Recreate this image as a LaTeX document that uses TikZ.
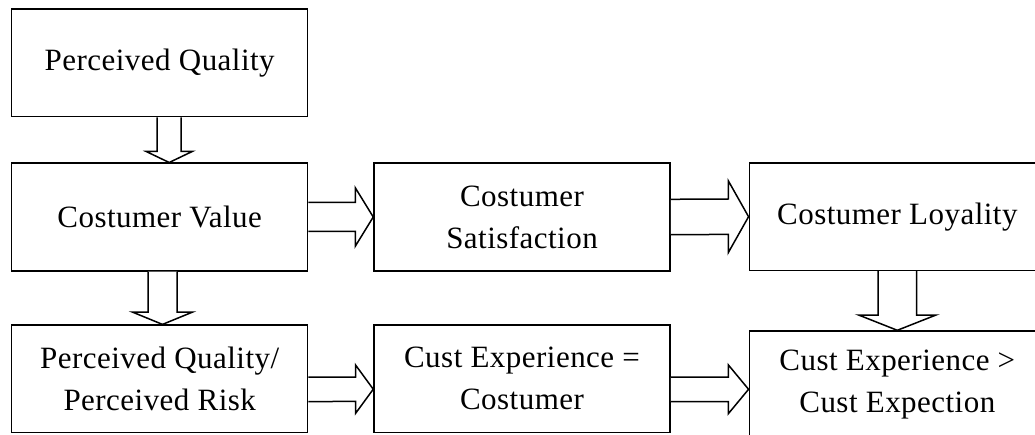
\documentclass[tikz,border=0pt]{standalone}
\usepackage{fontspec}
\setmainfont{Liberation Serif}[LetterSpace=1.5]
\usetikzlibrary{calc}

% block arrow pointing right: start, tip, shaft half-width, head half-width, head length
\newcommand\blockright[5]{%
  \draw[barrow] ($#1+(0,#3)$) -- ($#2+(-#5,#3)$) -- ($#2+(-#5,#4)$) -- #2
    -- ($#2+(-#5,-#4)$) -- ($#2+(-#5,-#3)$) -- ($#1+(0,-#3)$);}
% block arrow pointing down: start, tip, shaft half-width, head half-width, head length
\newcommand\blockdown[5]{%
  \draw[barrow] ($#1+(-#3,0)$) -- ($#2+(-#3,#5)$) -- ($#2+(-#4,#5)$) -- #2
    -- ($#2+(#4,#5)$) -- ($#2+(#3,#5)$) -- ($#1+(#3,0)$);}

\begin{document}
\begin{tikzpicture}[x=1pt,y=1pt,
  box/.style={draw, line width=1.5pt, minimum width=296pt, minimum height=107.5pt,
    inner sep=0pt, align=center, font=\fontsize{31}{42}\selectfont},
  barrow/.style={draw, fill=white, line width=1.5pt, line join=miter}]
\useasboundingbox (0,0) rectangle (1035,434);
\clip (0,0) rectangle (1035,434);

\node[box] (pq)  at (159.7,371)   {Perceived Quality};
\node[box] (cv)  at (159.7,217)   {Costumer Value};
\node[box] (cs)  at (522,217)     {Costumer\\Satisfaction};
\node[box] (cl)  at (897.3,217.3) {Costumer Loyality};
\node[box] (pqr) at (159.7,55.1)  {Perceived Quality/\\Perceived Risk};
\node[box] (ce)  at (522,55.3)    {Cust Experience =\\Costumer};
\node[box] (cx)  at (897.3,49.2)  {Cust Experience >\\Cust Expection};

% vertical flow
\blockdown{([xshift=9.5pt]pq.south)}{([xshift=9.5pt]cv.north)}{12}{23}{11}
\blockdown{([xshift=2.8pt]cv.south)}{([xshift=2.8pt]cv.south |- pqr.north)}{14.5}{30}{12.3}
\blockdown{(cl.south)}{(cl.south |- cx.north)}{19.2}{38.7}{15.3}

% horizontal flow
\blockright{(cv.east)}{(cs.west)}{14.5}{29.3}{18}
\blockright{(cs.east)}{(cl.west)}{17.7}{36}{20.3}
\blockright{([yshift=-10.5pt]pqr.east)}{([yshift=-10.5pt]ce.west)}{12.2}{24.2}{17.7}
\blockright{([yshift=-10.6pt]ce.east)}{([yshift=-10.6pt]ce.east -| cx.west)}{12.2}{24.5}{20.3}
\end{tikzpicture}
\end{document}
